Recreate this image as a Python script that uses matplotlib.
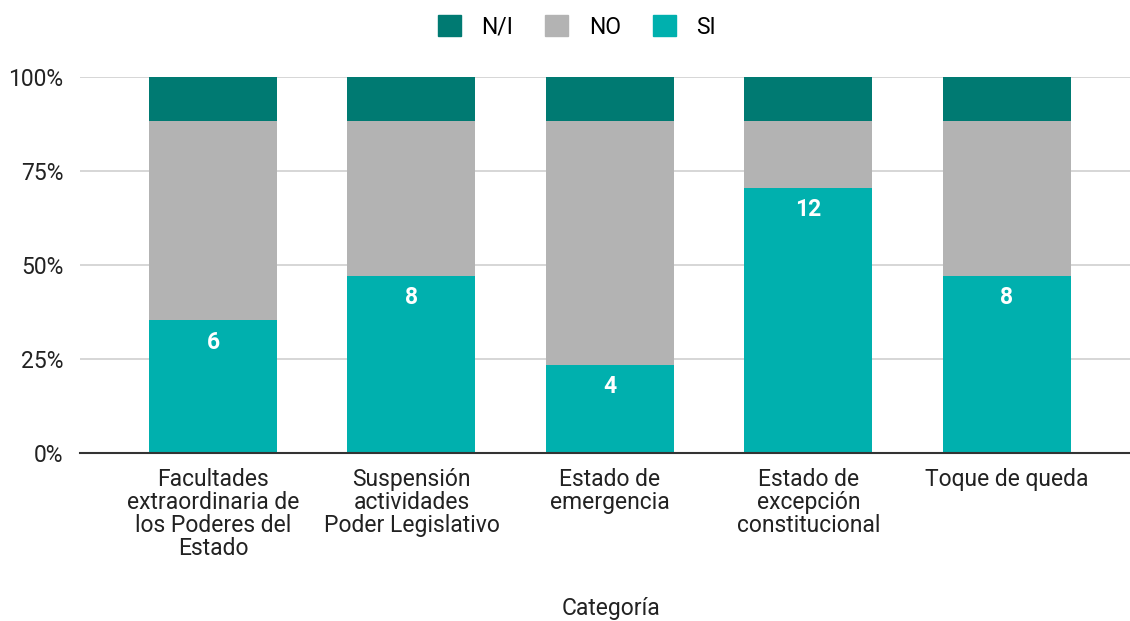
import numpy as np
import matplotlib.pyplot as plt
from matplotlib.patches import Patch
from matplotlib.ticker import PercentFormatter

plt.rcParams["font.family"] = ["Roboto", "DejaVu Sans"]

categories = [
    "Facultades\nextraordinaria de\nlos Poderes del\nEstado",
    "Suspensión\nactividades\nPoder Legislativo",
    "Estado de\nemergencia",
    "Estado de\nexcepción\nconstitucional",
    "Toque de queda",
]
si = [6, 8, 4, 12, 8]
no = [9, 7, 11, 3, 7]
ni = [2, 2, 2, 2, 2]

c_si = "#00b0ae"
c_no = "#b3b3b3"
c_ni = "#007a72"

si = np.array(si, dtype=float)
no = np.array(no, dtype=float)
ni = np.array(ni, dtype=float)
total = si + no + ni
p_si, p_no, p_ni = si / total, no / total, ni / total

fig = plt.figure(figsize=(11.3, 6.21), dpi=100)
ax = fig.add_axes([80 / 1130, 1 - 453 / 621, 1050 / 1130, 376 / 621])

x = np.arange(len(categories))
w = 0.645
ax.bar(x, p_si, w, color=c_si, zorder=3)
ax.bar(x, p_no, w, bottom=p_si, color=c_no, zorder=3)
ax.bar(x, p_ni, w, bottom=p_si + p_no, color=c_ni, zorder=3)

for xi, v, p in zip(x, si, p_si):
    ax.text(xi, p - 0.058, "%d" % v, ha="center", va="center", color="white",
            fontsize=16.5, fontweight="bold", zorder=4)

ax.set_xlim(-0.67, 4.62)
ax.set_ylim(0, 1)
ax.set_yticks([0, 0.25, 0.5, 0.75, 1.0])
ax.yaxis.set_major_formatter(PercentFormatter(1.0, decimals=0))
ax.grid(axis="y", color="#d0d0d0", linewidth=1.2, zorder=0)
ax.set_xticks(x)
ax.set_xticklabels(categories, fontsize=16.5, color="#222222", linespacing=1.0)
ax.tick_params(axis="y", labelsize=16.5, labelcolor="#222222", length=0, pad=12)
ax.tick_params(axis="x", length=0, pad=11)
for s in ["top", "right", "left"]:
    ax.spines[s].set_visible(False)
ax.spines["bottom"].set_color("#333333")
ax.spines["bottom"].set_linewidth(1.5)
ax.spines["bottom"].set_zorder(5)

fig.text(611 / 1130, 1 - 608 / 621, "Categoría", ha="center", va="center",
         fontsize=16.5, color="#222222")

handles = [Patch(color=c_ni, label="N/I"), Patch(color=c_no, label="NO"),
           Patch(color=c_si, label="SI")]
fig.legend(handles=handles, loc="center", bbox_to_anchor=(577 / 1130, 1 - 27 / 621),
           ncol=3, frameon=False, fontsize=16.5, handlelength=1.0, handleheight=1.0,
           columnspacing=1.4, handletextpad=0.9)

fig.savefig("out.png", dpi=100)
